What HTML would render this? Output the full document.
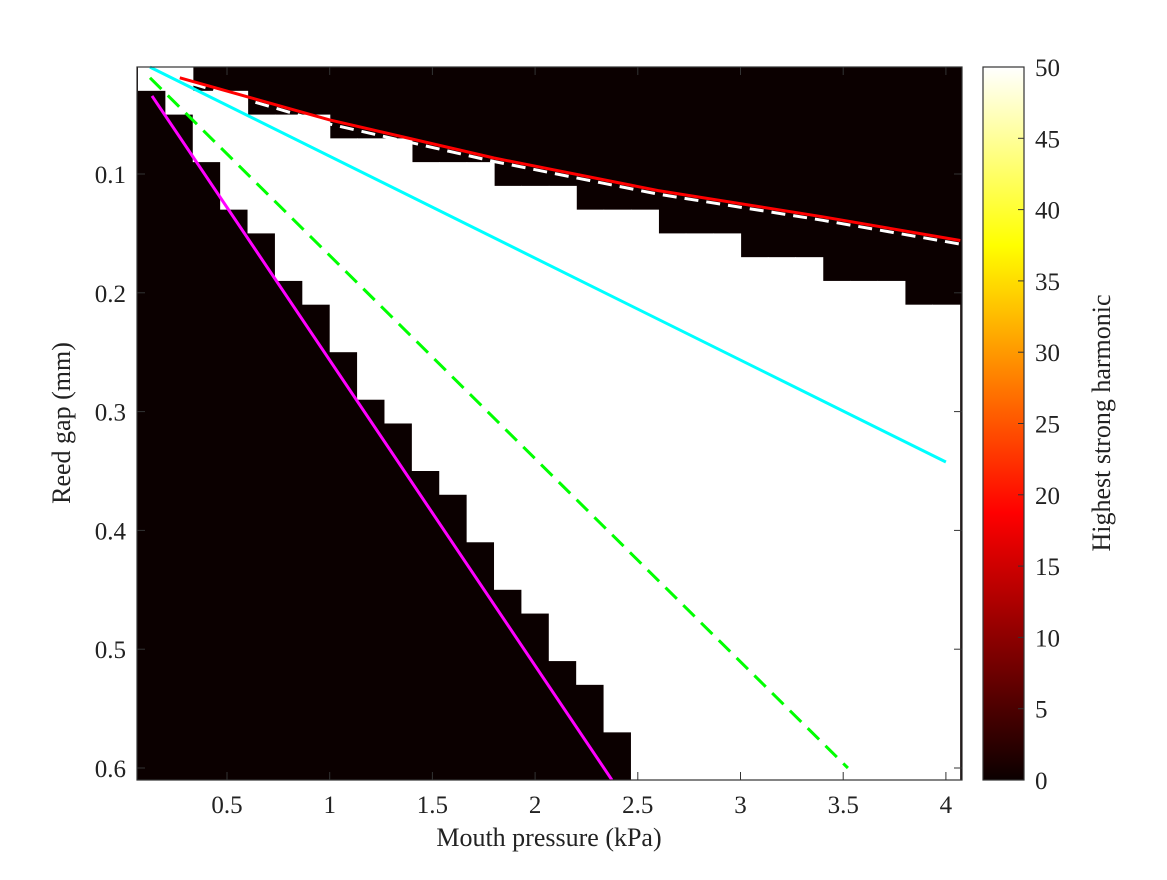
<!DOCTYPE html>
<html><head><meta charset="utf-8"><style>
body{margin:0;background:#fff}
svg text{font-family:"Liberation Serif",serif;fill:#222}
</style></head><body>
<svg id="chart" width="1167" height="875" viewBox="0 0 1167 875" xmlns="http://www.w3.org/2000/svg">
<defs>
<linearGradient id="hot" x1="0" y1="1" x2="0" y2="0">
<stop offset="0" stop-color="#0b0000"/>
<stop offset="0.375" stop-color="#ff0000"/>
<stop offset="0.75" stop-color="#ffff00"/>
<stop offset="1" stop-color="#ffffff"/>
</linearGradient>
<clipPath id="plotclip"><rect x="137" y="67" width="825" height="713"/></clipPath>
</defs>
<g id="plot"></g>
<g id="axes"></g>
<g id="cbar"></g>
</svg>
<script>
// Grid: 30 pressure columns, cell edges 0.0667..4.0667 kPa
const nCols = 30;
const colWidthKPa = 4/30;
// white region per column: from upperGap (black above) to lowerGap (black below)
const upperGap = [0.01,0.01,0.03,0.03,0.05,0.05,0.05,0.07,0.07,0.07,0.09,0.09,0.09,0.11,0.11,0.11,0.13,0.13,0.13,0.15,0.15,0.15,0.17,0.17,0.17,0.19,0.19,0.19,0.21,0.21];
const lowerGap = [0.03,0.05,0.09,0.13,0.15,0.19,0.21,0.25,0.29,0.31,0.35,0.37,0.41,0.45,0.47,0.51,0.53,0.57,0.61,0.61,0.61,0.61,0.61,0.61,0.61,0.61,0.61,0.61,0.61,0.61];
const redP = [0.27,1.0,1.8,2.6,3.4,4.07];
const redG = [0.019,0.0545,0.0865,0.114,0.136,0.156];
const whiteP = [0.33,1.0,1.8,2.6,3.4,4.07];
const whiteG = [0.024,0.058,0.0895,0.117,0.139,0.159];
const cyanP = [0.125,4.0];
const cyanG = [0.01,0.3424];
const greenP = [0.125,3.523];
const greenG = [0.019,0.6];
const magP = [0.135,2.374];
const magG = [0.0343,0.61];
const xTicks = [0.5,1,1.5,2,2.5,3,3.5,4];
const xTickLabels = ["0.5","1","1.5","2","2.5","3","3.5","4"];
const yTicks = [0.1,0.2,0.3,0.4,0.5,0.6];
const yTickLabels = ["0.1","0.2","0.3","0.4","0.5","0.6"];
const cTicks = [0,5,10,15,20,25,30,35,40,45,50];

const X = p => 227 + (p-0.5)*205.4;
const Y = g => 174 + (g-0.1)*1188;
const C = v => 780 - v*(713/50);
const NS = "http://www.w3.org/2000/svg";
function mk(tag, attrs, parent){const e=document.createElementNS(NS,tag);for(const k in attrs)e.setAttribute(k,attrs[k]);parent.appendChild(e);return e;}
const plot = document.getElementById('plot');
const axes = document.getElementById('axes');
const cbar = document.getElementById('cbar');

const bg = mk('rect',{x:137,y:67,width:825,height:713,fill:'#0b0000'},plot);


const cells = mk('g',{'clip-path':'url(#plotclip)'},plot);
for(let i=0;i<nCols;i++){
  const p0 = (i+0.5)*colWidthKPa, p1=(i+1.5)*colWidthKPa;
  const x0=X(p0), x1=X(p1);
  const y0=Y(upperGap[i]), y1=Y(lowerGap[i]);
  const r = mk('rect',{x:x0,y:y0,width:x1-x0+0.6,height:Math.max(0,y1-y0),fill:'#ffffff'},cells);
  
  
}
function line(ps,gs,color,dash,name){
  const d = ps.map((p,i)=>(i?'L':'M')+X(p).toFixed(1)+' '+Y(gs[i]).toFixed(1)).join(' ');
  const a={d:d,fill:'none',stroke:color,'stroke-width':3};
  if(dash)a['stroke-dasharray']=dash;
  const e=mk('path',a,plot);
  
  
}
line(whiteP,whiteG,'#ffffff','14 8','white-dashed-line');
line(redP,redG,'#ff0000',null,'red-line');
line(cyanP,cyanG,'#00ffff',null,'cyan-line');
line(greenP,greenG,'#00ff00','16 9','green-dashed-line');
line(magP,magG,'#ff00ff',null,'magenta-line');

const box = mk('rect',{x:137,y:67,width:825,height:713,fill:'none',stroke:'#333','stroke-width':1.2},axes);


xTicks.forEach((t,i)=>{
  const x=X(t);
  mk('line',{x1:x,y1:780,x2:x,y2:772,stroke:'#333'},axes);
  mk('line',{x1:x,y1:67,x2:x,y2:75,stroke:'#333'},axes);
  const tx=mk('text',{x:x,y:813,'font-size':25,'text-anchor':'middle'},axes);
  tx.textContent=xTickLabels[i];
  
  
});
yTicks.forEach((t,i)=>{
  const y=Y(t);
  mk('line',{x1:137,y1:y,x2:145,y2:y,stroke:'#333'},axes);
  mk('line',{x1:962,y1:y,x2:954,y2:y,stroke:'#333'},axes);
  const tx=mk('text',{x:126,y:y+9,'font-size':25,'text-anchor':'end'},axes);
  tx.textContent=yTickLabels[i];
  
  
});
const xt=mk('text',{x:549,y:846,'font-size':26,'text-anchor':'middle'},axes);
xt.textContent='Mouth pressure (kPa)';


const yt=mk('text',{x:0,y:0,'font-size':26,'text-anchor':'middle',transform:'translate(70,423) rotate(-90)'},axes);
yt.textContent='Reed gap (mm)';



const cb=mk('rect',{x:983,y:67,width:41,height:713,fill:'url(#hot)',stroke:'#333','stroke-width':1.2},cbar);


cTicks.forEach(v=>{
  const y=C(v);
  mk('line',{x1:1024,y1:y,x2:1018,y2:y,stroke:'#333'},cbar);
  const tx=mk('text',{x:1035,y:y+9,'font-size':25},cbar);
  tx.textContent=String(v);
  
  
});
const ct=mk('text',{x:0,y:0,'font-size':26,'text-anchor':'middle',transform:'translate(1110,423) rotate(-90)'},cbar);
ct.textContent='Highest strong harmonic';


</script>
</body></html>
